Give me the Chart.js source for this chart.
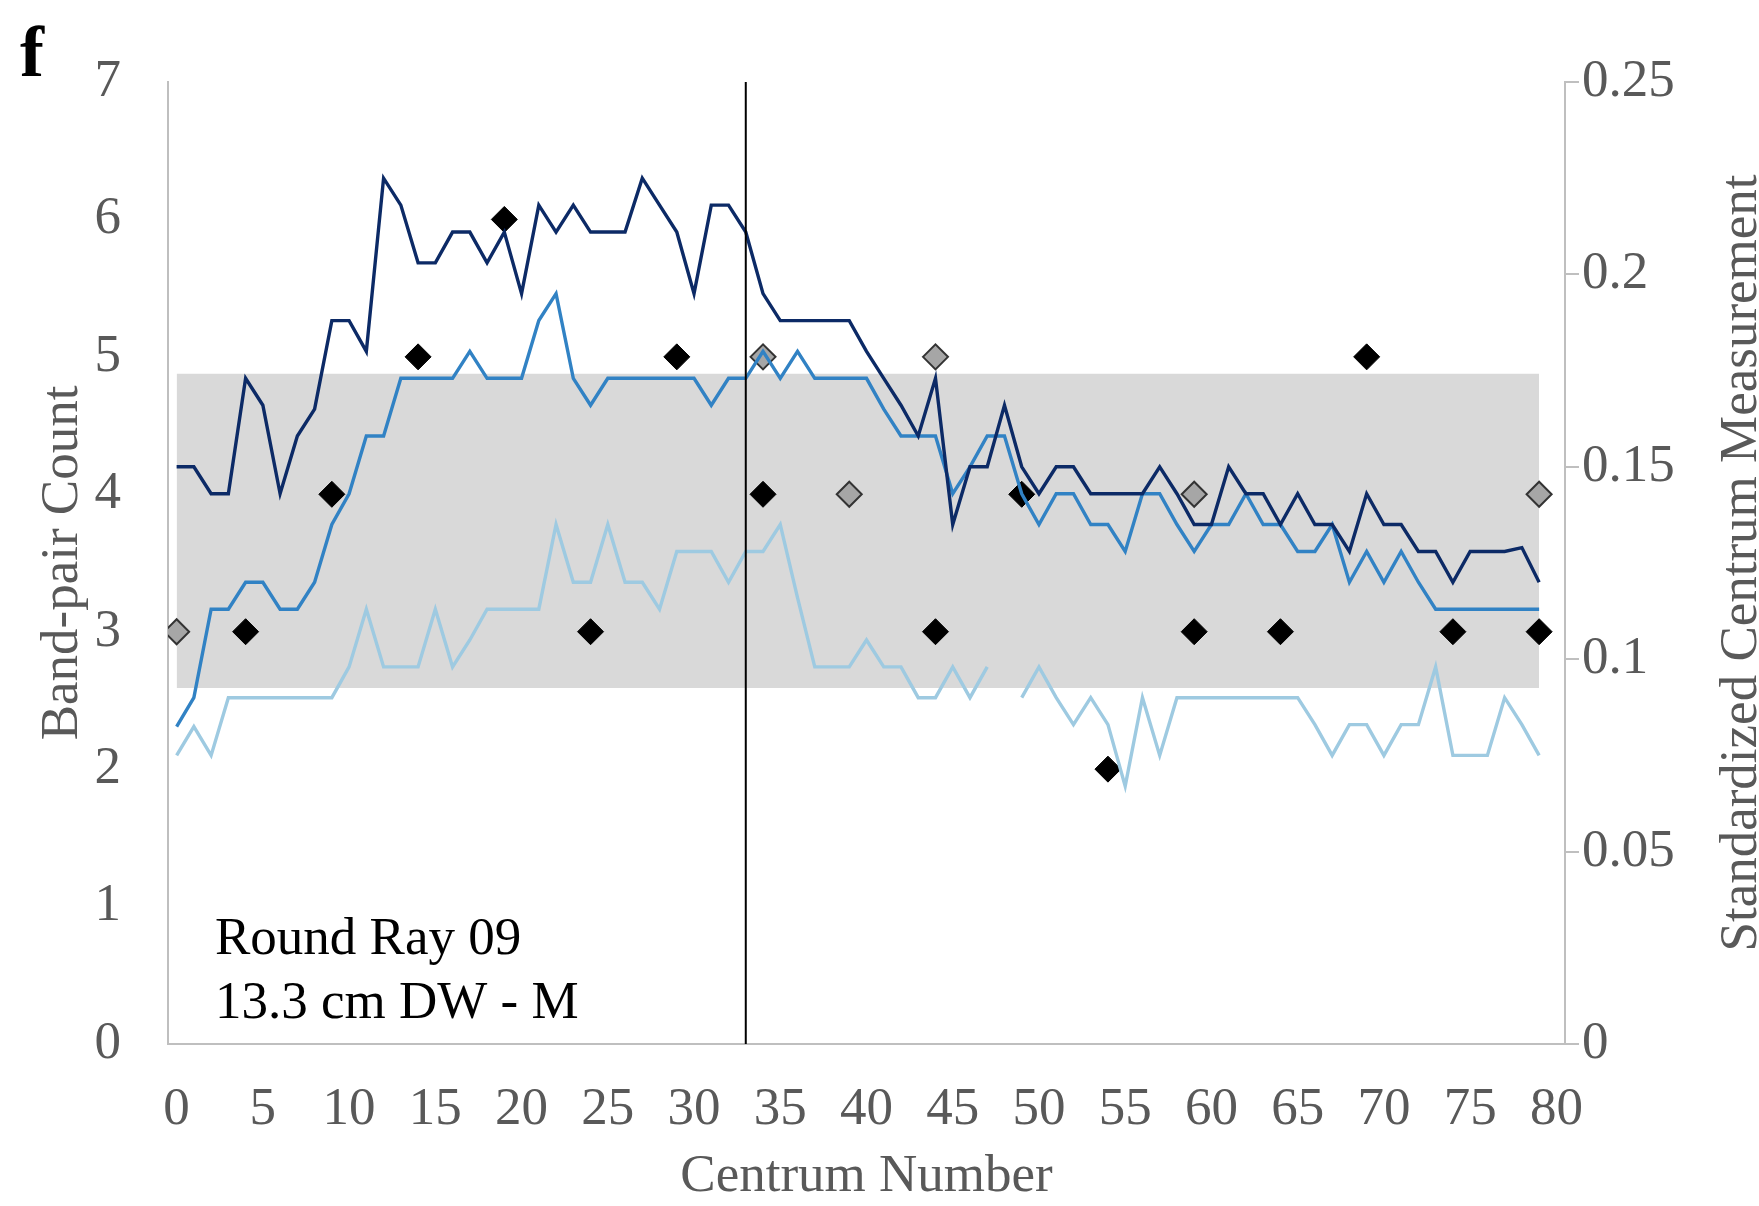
<!DOCTYPE html>
<html>
<head>
<meta charset="utf-8">
<script src="https://cdn.jsdelivr.net/npm/chart.js@4/dist/chart.umd.min.js"></script>
<style>
  html, body { margin: 0; padding: 0; background: #ffffff; }
  #wrap { width: 1759px; height: 1206px; position: relative; }
</style>
</head>
<body>
<div id="wrap"><canvas id="chart"></canvas></div>
<script>
// Centrum positions along the vertebral column
const centrum = Array.from({ length: 80 }, (_, i) => i);

// Standardized centrum measurements (right axis)
const measureDark = [
  0.150, 0.150, 0.143, 0.143, 0.173, 0.166, 0.143, 0.158, 0.165, 0.188,
  0.188, 0.180, 0.225, 0.218, 0.203, 0.203, 0.211, 0.211, 0.203, 0.211,
  0.195, 0.218, 0.211, 0.218, 0.211, 0.211, 0.211, 0.225, 0.218, 0.211,
  0.195, 0.218, 0.218, 0.211, 0.195, 0.188, 0.188, 0.188, 0.188, 0.188,
  0.180, 0.173, 0.166, 0.158, 0.173, 0.135, 0.150, 0.150, 0.166, 0.150,
  0.143, 0.150, 0.150, 0.143, 0.143, 0.143, 0.143, 0.150, 0.143, 0.135,
  0.135, 0.150, 0.143, 0.143, 0.135, 0.143, 0.135, 0.135, 0.128, 0.143,
  0.135, 0.135, 0.128, 0.128, 0.120, 0.128, 0.128, 0.128, 0.129, 0.120
];
const measureMid = [
  0.0825, 0.090, 0.113, 0.113, 0.120, 0.120, 0.113, 0.113, 0.120, 0.135,
  0.143, 0.158, 0.158, 0.173, 0.173, 0.173, 0.173, 0.180, 0.173, 0.173,
  0.173, 0.188, 0.195, 0.173, 0.166, 0.173, 0.173, 0.173, 0.173, 0.173,
  0.173, 0.166, 0.173, 0.173, 0.180, 0.173, 0.180, 0.173, 0.173, 0.173,
  0.173, 0.165, 0.158, 0.158, 0.158, 0.143, 0.150, 0.158, 0.158, 0.143,
  0.135, 0.143, 0.143, 0.135, 0.135, 0.128, 0.143, 0.143, 0.135, 0.128,
  0.135, 0.135, 0.143, 0.135, 0.135, 0.128, 0.128, 0.135, 0.120, 0.128,
  0.120, 0.128, 0.120, 0.113, 0.113, 0.113, 0.113, 0.113, 0.113, 0.113
];
const measureLight = [
  0.075, 0.0825, 0.075, 0.090, 0.090, 0.090, 0.090, 0.090, 0.090, 0.090,
  0.098, 0.113, 0.098, 0.098, 0.098, 0.113, 0.098, 0.105, 0.113, 0.113,
  0.113, 0.113, 0.135, 0.120, 0.120, 0.135, 0.120, 0.120, 0.113, 0.128,
  0.128, 0.128, 0.120, 0.128, 0.128, 0.135, 0.116, 0.098, 0.098, 0.098,
  0.105, 0.098, 0.098, 0.090, 0.090, 0.098, 0.090, 0.098, null, 0.090,
  0.098, 0.090, 0.083, 0.090, 0.083, 0.067, 0.090, 0.075, 0.090, 0.090,
  0.090, 0.090, 0.090, 0.090, 0.090, 0.090, 0.083, 0.075, 0.083, 0.083,
  0.075, 0.083, 0.083, 0.098, 0.075, 0.075, 0.075, 0.090, 0.083, 0.075
];

// Band-pair counts (left axis)
const countBlackAt = [4, 9, 14, 19, 24, 29, 34, 44, 49, 54, 59, 64, 69, 74, 79];
const countBlack   = [3, 4, 5, 6, 3, 5, 4, 3, 4, 2, 3, 3, 5, 3, 3];
const countGreyAt  = [0, 34, 39, 44, 59, 79];
const countGrey    = [3, 5, 4, 5, 4, 4];

// Shaded reference range on the measurement axis
const bandFrom = 0, bandTo = 79;
const bandHigh = 0.1742, bandLow = 0.0925;

// Vertical marker
const markerAt = 33;

// Axis ticks and labels
const xTicks = [0, 5, 10, 15, 20, 25, 30, 35, 40, 45, 50, 55, 60, 65, 70, 75, 80];
const countTicks = [0, 1, 2, 3, 4, 5, 6, 7];
const measureTicks = [0, 0.05, 0.1, 0.15, 0.2, 0.25];
const panelLetter = 'f';
const specimenText = ['Round Ray 09', '13.3 cm DW - M'];
const xTitle = 'Centrum Number';
const leftTitle = 'Band-pair Count';
const rightTitle = 'Standardized Centrum Measurement';

const pts = (xs, ys) => xs.map((x, i) => ({ x: x, y: ys[i] }));

const FONT = '"Liberation Serif", "Times New Roman", serif';
const GREY_TEXT = '#595959';
const AXIS_GREY = '#bfbfbf';

const overlayText = {
  id: 'overlayText',
  afterDraw(chart) {
    const { ctx, chartArea } = chart;
    ctx.save();
    ctx.fillStyle = '#000000';
    ctx.textAlign = 'left';
    ctx.textBaseline = 'alphabetic';
    ctx.font = 'bold 72px ' + FONT;
    ctx.fillText(panelLetter, 20, 76);
    ctx.font = '53px ' + FONT;
    ctx.fillText(specimenText[0], chartArea.left + 47, 954);
    ctx.fillText(specimenText[1], chartArea.left + 47, 1018);
    ctx.fillStyle = GREY_TEXT;
    ctx.translate(chartArea.right + 177, (chartArea.top + chartArea.bottom) / 2);
    ctx.rotate(-Math.PI / 2);
    ctx.textAlign = 'center';
    ctx.textBaseline = 'middle';
    ctx.fillText(rightTitle, 0, 0);
    ctx.restore();
  }
};

const lineStyle = (color) => ({
  showLine: true,
  borderColor: color,
  backgroundColor: color,
  borderWidth: 3.4,
  pointRadius: 0,
  tension: 0,
  fill: false,
  spanGaps: false,
  yAxisID: 'y2'
});

new Chart(document.getElementById('chart'), {
  type: 'scatter',
  data: {
    datasets: [
      {
        data: [{ x: markerAt, y: countTicks[0] }, { x: markerAt, y: countTicks[countTicks.length - 1] }],
        showLine: true, borderColor: '#000000', borderWidth: 2, pointRadius: 0,
        fill: false, yAxisID: 'y'
      },
      Object.assign({ data: pts(centrum, measureDark) }, lineStyle('#0c2a66')),
      Object.assign({ data: pts(centrum, measureMid) }, lineStyle('#3182c4')),
      Object.assign({ data: pts(centrum, measureLight) }, lineStyle('#9ecae1')),
      {
        data: pts(countGreyAt, countGrey),
        pointStyle: 'rectRot', pointRadius: 12.5,
        backgroundColor: '#a6a6a6', borderColor: '#333333', borderWidth: 2,
        showLine: false, yAxisID: 'y'
      },
      {
        data: pts(countBlackAt, countBlack),
        pointStyle: 'rectRot', pointRadius: 13,
        backgroundColor: '#000000', borderColor: '#000000', borderWidth: 1,
        showLine: false, yAxisID: 'y'
      },
      {
        data: [{ x: bandFrom, y: bandHigh }, { x: bandTo, y: bandHigh }],
        showLine: true, borderColor: 'rgba(0,0,0,0)', borderWidth: 0, pointRadius: 0,
        backgroundColor: '#d9d9d9', fill: '+1', yAxisID: 'y2'
      },
      {
        data: [{ x: bandFrom, y: bandLow }, { x: bandTo, y: bandLow }],
        showLine: true, borderColor: 'rgba(0,0,0,0)', borderWidth: 0, pointRadius: 0,
        fill: false, yAxisID: 'y2'
      }
    ]
  },
  options: {
    responsive: true,
    maintainAspectRatio: false,
    animation: false,
    events: [],
    layout: { padding: { top: 82, left: 0, right: 0, bottom: 0 } },
    plugins: {
      legend: { display: false },
      tooltip: { enabled: false }
    },
    scales: {
      x: {
        type: 'linear',
        min: -0.5,
        max: 80.5,
        afterBuildTicks: (s) => { s.ticks = xTicks.map(v => ({ value: v })); },
        afterFit: (s) => { s.height = 162; },
        grid: { display: false },
        border: { display: true, color: AXIS_GREY, width: 2 },
        ticks: {
          autoSkip: false, maxRotation: 0, padding: 26,
          color: GREY_TEXT, font: { family: FONT, size: 53 }
        },
        title: {
          display: true, text: xTitle, color: GREY_TEXT,
          font: { family: FONT, size: 53, lineHeight: 1.1 },
          padding: { top: 0, bottom: 0 }
        }
      },
      y: {
        position: 'left',
        min: 0,
        max: 7,
        afterBuildTicks: (s) => { s.ticks = countTicks.map(v => ({ value: v })); },
        afterFit: (s) => { s.width = 168; },
        grid: { display: false },
        border: { display: true, color: AXIS_GREY, width: 2 },
        ticks: { padding: 39, color: GREY_TEXT, font: { family: FONT, size: 53 } },
        title: {
          display: true, text: leftTitle, color: GREY_TEXT,
          font: { family: FONT, size: 53, lineHeight: 1.2 },
          padding: { top: 31, bottom: 0 }
        }
      },
      y2: {
        position: 'right',
        min: 0,
        max: 0.25,
        afterBuildTicks: (s) => { s.ticks = measureTicks.map(v => ({ value: v })); },
        afterFit: (s) => { s.width = 194; },
        grid: {
          display: true, drawOnChartArea: false, drawTicks: true,
          tickLength: 14, color: AXIS_GREY, lineWidth: 2
        },
        border: { display: true, color: AXIS_GREY, width: 2 },
        ticks: {
          padding: 3, color: GREY_TEXT, font: { family: FONT, size: 53 },
          callback: (v) => String(Number(v.toFixed(2)))
        },
        title: { display: false }
      }
    }
  },
  plugins: [overlayText]
});
</script>
</body>
</html>
